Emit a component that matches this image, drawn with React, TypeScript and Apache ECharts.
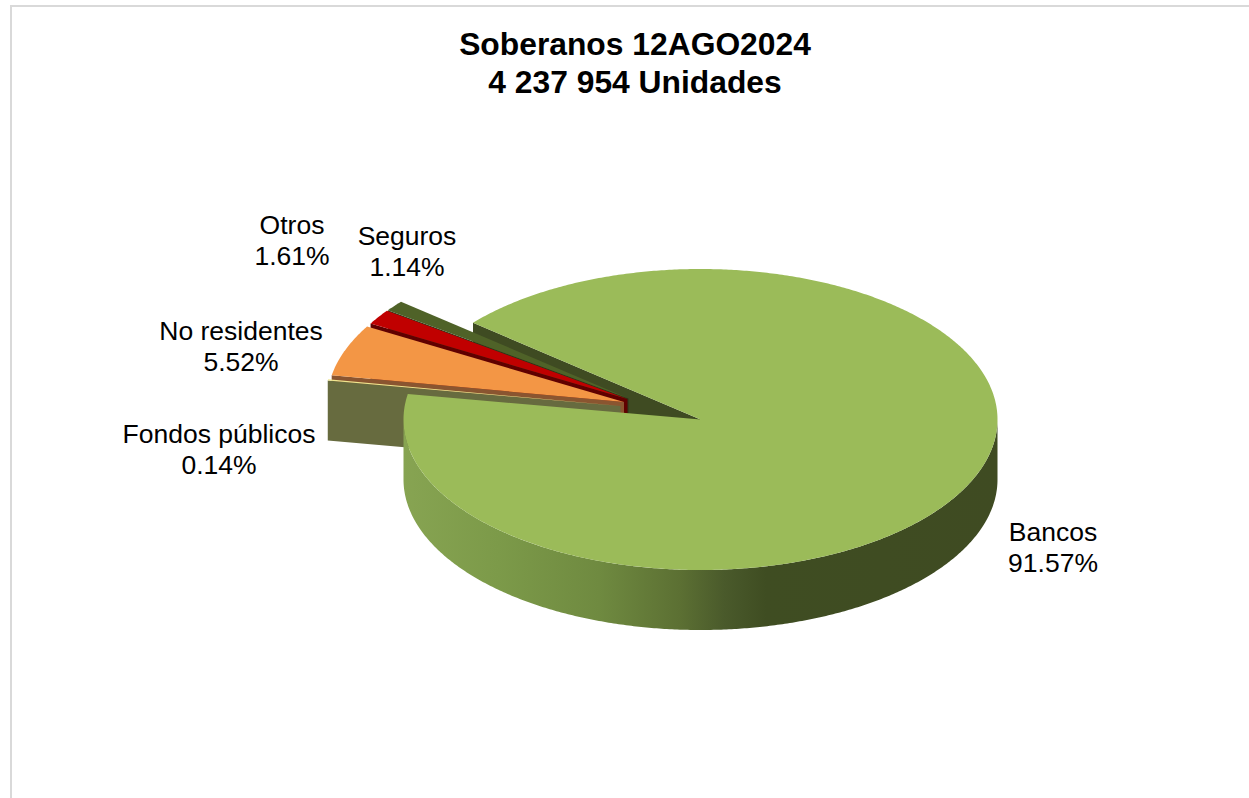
import React, { useEffect, useRef } from "react";
import * as echarts from "echarts";

const titleLines = ["Soberanos 12AGO2024", "4 237 954 Unidades"];
const categories = ["Bancos", "Fondos públicos", "No residentes", "Otros", "Seguros"];
const values = [91.57, 0.14, 5.52, 1.61, 1.14];
const topColors = ["#9BBB59", "#EFE68F", "#F39645", "#C00000", "#4F6228"];
const sideColors = ["#3F4B22", "#676B3F", "#8A5530", "#600000", "#2B361A"];
const paintOrder = [4, 3, 2, 1, 0];

const CX = 700.5, CY = 419.5, RX = 297, RY = 150.5, DEPTH = 60;
const START = 140; // math degrees of Bancos' clockwise start
// exploded offset of each slice, per category
const offsets = [[0, 0], [-80, -13.5], [-76.5, -17.5], [-73, -20.5], [-72, -21]];
const labelPos = [[1053, 547], [219, 449], [241, 346], [292, 240], [407, 251]];

function spans() {
  const total = values.reduce((a, b) => a + b, 0);
  let a = START;
  return values.map((v) => {
    const s = a;
    a -= (v / total) * 360;
    return [s, a];
  });
}
const pt = (cx: number, cy: number, deg: number): number[] => [
  cx + RX * Math.cos((deg * Math.PI) / 180),
  cy - RY * Math.sin((deg * Math.PI) / 180),
];
function arc(cx: number, cy: number, a0: number, a1: number) {
  const n = Math.max(2, Math.ceil(Math.abs(a0 - a1) * 2));
  const out: number[][] = [];
  for (let i = 0; i <= n; i++) out.push(pt(cx, cy, a0 + ((a1 - a0) * i) / n));
  return out;
}

const wallGradient = () =>
  new echarts.graphic.LinearGradient(
    403, 0, 998, 0,
    [
      { offset: 0, color: "#87A452" },
      { offset: 0.16, color: "#7C9A49" },
      { offset: 0.33, color: "#6F8A40" },
      { offset: 0.465, color: "#5C7033" },
      { offset: 0.54, color: "#4A5A2B" },
      { offset: 0.61, color: "#3F4D22" },
      { offset: 1, color: "#3F4B22" },
    ],
    true
  );

function renderBack(_: any, api: any) {
  const [s] = spans()[0];
  const p = pt(CX, CY, s);
  return {
    type: "polygon",
    shape: { points: [p, [CX, CY], [CX, CY + DEPTH], [p[0], p[1] + DEPTH]] },
    style: { fill: sideColors[0] },
    silent: true,
  };
}

function renderSlice(params: any, api: any) {
  const idx = paintOrder[params.dataIndex];
  const [a0, a1] = spans()[idx];
  const cx = CX + offsets[idx][0];
  const cy = CY + offsets[idx][1];
  const children: any[] = [];
  const top = [[cx, cy], ...arc(cx, cy, a0, a1)];
  if (idx === 0) {
    const upper = arc(cx, cy, 180, 360);
    const lower = upper.map((p) => [p[0], p[1] + DEPTH]).reverse();
    children.push({
      type: "polygon",
      shape: { points: [...upper, ...lower] },
      style: { fill: wallGradient() },
    });
  } else {
    // the cut face on the lower edge of a slice faces the viewer
    const e = pt(cx, cy, a0);
    children.push({
      type: "polygon",
      shape: { points: [e, [cx, cy], [cx, cy + DEPTH], [e[0], e[1] + DEPTH]] },
      style: { fill: sideColors[idx] },
    });
  }
  children.push({ type: "polygon", shape: { points: top }, style: { fill: topColors[idx] } });
  return { type: "group", children };
}

function renderLabel(params: any) {
  const i = params.dataIndex;
  return {
    type: "text",
    x: labelPos[i][0],
    y: labelPos[i][1],
    style: {
      text: `${categories[i]}\n${values[i].toFixed(2)}%`,
      fontFamily: "Liberation Sans",
      fontSize: 26.5,
      lineHeight: 31,
      fill: "#000000",
      align: "center",
      verticalAlign: "middle",
    },
  };
}

export default function App() {
  const ref = useRef<HTMLDivElement>(null);
  useEffect(() => {
    const chart = echarts.init(ref.current!, null, { renderer: "svg" });
    chart.setOption({
      animation: false,
      backgroundColor: "#ffffff",
      title: {
        text: titleLines.join("\n"),
        left: 630,
        top: 20,
        textAlign: "center",
        textStyle: {
          fontFamily: "Liberation Sans",
          fontSize: 31.8,
          fontWeight: "bold",
          lineHeight: 38,
          color: "#000000",
        },
      },
      graphic: [
        { type: "rect", shape: { x: 10, y: 5, width: 2, height: 793 }, style: { fill: "#D9D9D9" } },
        { type: "rect", shape: { x: 10, y: 5, width: 1239, height: 2 }, style: { fill: "#D9D9D9" } },
      ],
      series: [
        { type: "custom", coordinateSystem: "none", z: 1, renderItem: renderBack, data: [values[0]] },
        { type: "custom", coordinateSystem: "none", z: 2, renderItem: renderSlice, data: paintOrder.map((i) => values[i]) },
        { type: "custom", coordinateSystem: "none", z: 3, renderItem: renderLabel, data: values },
      ],
    });
    return () => chart.dispose();
  }, []);
  return <div ref={ref} style={{ position: "absolute", left: 0, top: 0, width: 1249, height: 798 }} />;
}
